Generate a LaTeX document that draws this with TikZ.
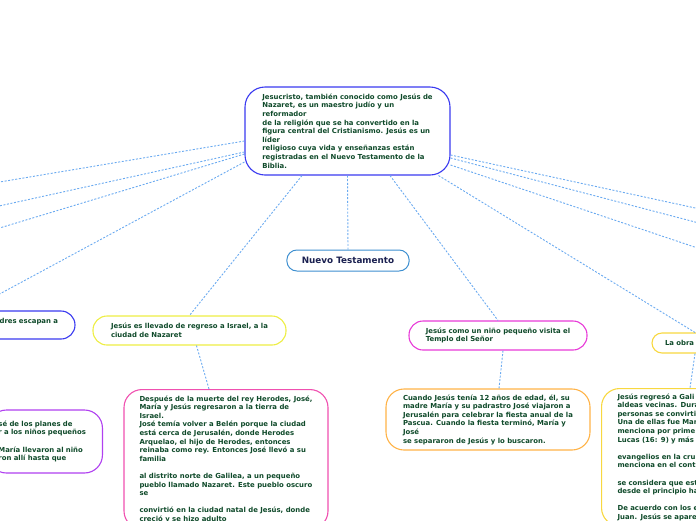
\documentclass[tikz,border=0pt]{standalone}
\usepackage{fontspec}
\setmainfont{DejaVu Sans}
\usetikzlibrary{positioning}

\definecolor{txtgreen}{HTML}{0F4A2A}
\definecolor{txtnavy}{HTML}{1A2050}
\definecolor{linkblue}{HTML}{6AAAF0}
\definecolor{rootblue}{HTML}{3A3AF0}
\definecolor{steelblue}{HTML}{3D8FD0}
\definecolor{brightyellow}{HTML}{EEEE44}
\definecolor{goldyellow}{HTML}{F8D840}
\definecolor{magentapink}{HTML}{E83AD8}
\definecolor{hotpink}{HTML}{F050B0}
\definecolor{violet}{HTML}{B040F0}
\definecolor{lightorange}{HTML}{FFB347}

\begin{document}
\begin{tikzpicture}[x=1pt, y=-1pt,
    topic/.style={draw, line width=1.1pt, fill=white, rounded corners=18pt,
        font=\fontsize{6.9}{8.6}\selectfont\bfseries, text=txtgreen,
        align=left, inner xsep=15pt, inner ysep=5pt},
    pill/.style={topic, rounded corners=14pt, minimum height=29pt},
    link/.style={draw=linkblue, line width=0.9pt, dash pattern=on 2pt off 1.6pt}]

    \useasboundingbox (0,0) rectangle (696,520);
    \clip (0,0) rectangle (696,520);

    % central topic
    \node[topic, draw=rootblue, rounded corners=20pt, minimum width=205pt, minimum height=88pt]
        (root) at (347.5,131) {Jesucristo, también conocido como Jesús de\\
        Nazaret, es un maestro judío y un\\
        reformador\\
        de la religión que se ha convertido en la\\
        figura central del Cristianismo. Jesús es un\\
        líder\\
        religioso cuya vida y enseñanzas están\\
        registradas en el Nuevo Testamento de la\\
        Biblia.};

    % main branches
    \node[topic, draw=steelblue, line width=1pt, rounded corners=10pt, text=txtnavy,
        font=\fontsize{8.8}{9}\selectfont\bfseries, minimum width=122pt, minimum height=21pt]
        (nuevo) at (348,260.5) {Nuevo Testamento};
    \node[pill, draw=brightyellow, minimum width=193pt] (llevado) at (189.5,330.5)
        {Jesús es llevado de regreso a Israel, a la\\ciudad de Nazaret};
    \node[pill, draw=magentapink, minimum width=178pt] (nino) at (498,335.5)
        {Jesús como un niño pequeño visita el\\Templo del Señor};
    \node[topic, draw=goldyellow, rounded corners=10pt, text width=60pt, inner xsep=13pt,
        minimum height=20pt] (obra) at (695,343) {La obra};
    \node[pill, draw=rootblue, text width=178pt, inner xsep=17pt, align=right, minimum height=28pt]
        (escapan) at (-31,325) {dres escapan a\\ \mbox{}};

    % details
    \node[topic, draw=violet, text width=94pt, inner xsep=10pt, minimum height=63pt,
        anchor=east] (planes) at (103,441.5) {sé de los planes de\\
        r a los niños pequeños\\ \mbox{}\\
        María llevaron al niño\\
        ron allí hasta que};
    \node[topic, draw=hotpink, minimum width=204pt, anchor=north, inner ysep=6pt]
        (despues) at (226,389) {Después de la muerte del rey Herodes, José,\\
        María y Jesús regresaron a la tierra de\\
        Israel.\\
        José temía volver a Belén porque la ciudad\\
        está cerca de Jerusalén, donde Herodes\\
        Arquelao, el hijo de Herodes, entonces\\
        reinaba como rey. Entonces José llevó a su\\
        familia\\ \mbox{}\\
        al distrito norte de Galilea, a un pequeño\\
        pueblo llamado Nazaret. Este pueblo oscuro\\
        se\\ \mbox{}\\
        convirtió en la ciudad natal de Jesús, donde\\
        creció y se hizo adulto};
    \node[topic, draw=lightorange, minimum width=204pt, minimum height=61pt]
        (cuando) at (488,419.5) {Cuando Jesús tenía 12 años de edad, él, su\\
        madre María y su padrastro José viajaron a\\
        Jerusalén para celebrar la fiesta anual de la\\
        Pascua. Cuando la fiesta terminó, María y\\
        José\\
        se separaron de Jesús y lo buscaron.};
    \node[topic, draw=goldyellow, text width=200pt, inner xsep=16pt, anchor=north west]
        (regreso) at (601,388) {Jesús regresó a Gali\\
        aldeas vecinas. Dura\\
        personas se convirti\\
        Una de ellas fue Mar\\
        menciona por prime\\
        Lucas (16: 9) y más\\ \mbox{}\\
        evangelios en la cru\\
        menciona en el cont\\ \mbox{}\\
        se considera que est\\
        desde el principio ha\\ \mbox{}\\
        De acuerdo con los e\\
        Juan. Jesús se apare};

    % branches leaving the picture
    \coordinate (offA) at (-60,192);
    \coordinate (offB) at (-60,219);
    \coordinate (offC) at (-60,246);
    \coordinate (offD) at (760,222);
    \coordinate (offE) at (760,239);
    \coordinate (offF) at (760,269);

    % connectors
    \draw[link] ([yshift=-10pt]root.west) -- (offA);
    \draw[link] ([yshift=-21pt]root.west) -- (offB);
    \draw[link] ([yshift=-23pt]root.west) -- (offC);
    \draw[link] ([yshift=-31pt]root.west) -- (escapan.north);
    \draw[link] ([yshift=-24pt]root.east) -- (offD);
    \draw[link] ([yshift=-27pt]root.east) -- (offE);
    \draw[link] ([yshift=-34pt]root.east) -- (offF);
    \draw[link] ([xshift=-45.5pt]root.south) -- (llevado.north);
    \draw[link] (root.south) -- (nuevo.north);
    \draw[link] ([xshift=42.5pt]root.south) -- (nino.north);
    \draw[link] ([xshift=-12pt]root.south east) -- (obra.north);
    \draw[link] ([xshift=7pt]llevado.south) -- ([xshift=-17pt]despues.north);
    \draw[link] ([xshift=5pt]nino.south) -- ([xshift=11pt]cuando.north);
    \draw[link] (obra.south) -- ([xshift=89pt]regreso.north west);
\end{tikzpicture}
\end{document}
